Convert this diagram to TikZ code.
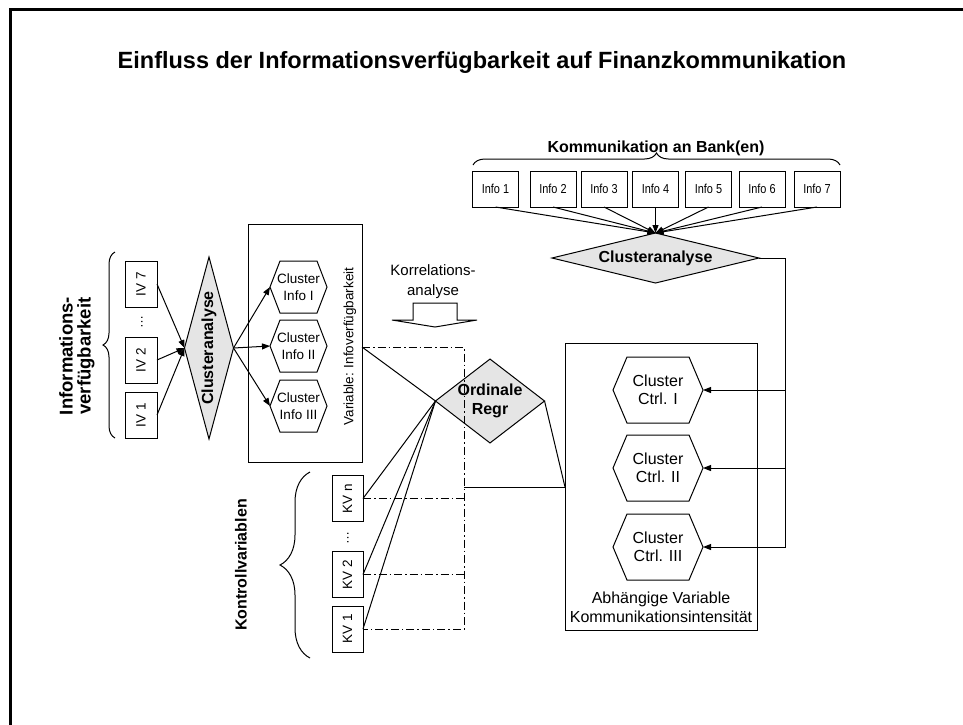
\documentclass[tikz,border=0pt]{standalone}
\usepackage{fontspec}
\setmainfont{Liberation Sans}
\newfontfamily\narrowsans{Liberation Sans}[FakeStretch=0.84]
\usepackage{graphicx}
\usetikzlibrary{arrows.meta,shapes.geometric,decorations.pathreplacing,calc}

\tikzset{
  every node/.style={outer sep=0pt, inner sep=0pt},
  conn/.style={line width=1pt},
  arr/.style={conn, -{Triangle[length=8pt,width=6pt]}},
  dashdot/.style={line width=1pt, dash pattern=on 8pt off 3pt on 1.5pt off 3pt},
  sz/.style 2 args={font=\fontsize{#1}{#2}\selectfont},
  bsz/.style 2 args={font=\bfseries\fontsize{#1}{#2}\selectfont},
  infobox/.style={draw, line width=1pt, minimum width=46pt, minimum height=36pt,
    font=\narrowsans\fontsize{13}{15}\selectfont},
  varbox/.style={draw, line width=1pt, minimum width=32pt, minimum height=46pt, sz={13.5}{16}},
  hexnode/.style 2 args={minimum width=#1, minimum height=#2, align=center},
  decision/.style={diamond, draw, line width=1pt, fill=black!10, bsz={16}{19}, align=center},
  bracket/.style={line width=1pt, decorate, decoration={brace, amplitude=#1}},
  panel/.style={draw, line width=1pt}
}

% hexagon outline around a (borderless) node
\newcommand\hexoutline[2]{%
  \draw[line width=1pt, line join=miter] (#1.west) -- ($(#1.north west)+(#2pt,0)$)
    -- ($(#1.north east)+(-#2pt,0)$) -- (#1.east)
    -- ($(#1.south east)+(-#2pt,0)$) -- ($(#1.south west)+(#2pt,0)$) -- cycle;}

\begin{document}
\begin{tikzpicture}[x=1pt, y=-1pt]
\useasboundingbox (0,0) rectangle (963,724);

% outer frame (top and left edges)
\draw[line width=3pt] (10.5,730) -- (10.5,9) -- (970,9);

% title
\node[bsz={23.5}{28}] (title) at (482,62) {Einfluss der Informationsverfügbarkeit auf Finanzkommunikation};

% ---- communication to banks ----
\node[bsz={16}{19}] (komm) at (656,148) {Kommunikation an Bank(en)};
\draw[bracket=12pt] (473,165) -- (840,165);

\node[infobox] (i1) at (495.5,189) {Info 1};
\node[infobox] (i2) at (553,189) {Info 2};
\node[infobox] (i3) at (604,189) {Info 3};
\node[infobox] (i4) at (655.5,189) {Info 4};
\node[infobox] (i5) at (708.5,189) {Info 5};
\node[infobox] (i6) at (762,189) {Info 6};
\node[infobox] (i7) at (817,189) {Info 7};

\node[decision, aspect=4.14, minimum width=207pt, minimum height=50pt] (ct) at (655.5,258) {Clusteranalyse};

\foreach \n in {i1,i2,i3,i4,i5,i6,i7}
  \draw[arr] (\n.south) -- (ct.north);

% ---- dependent variable ----
\node[panel, minimum width=192pt, minimum height=287pt] (dv) at (661,486.5) {};
\node[hexnode={90pt}{66pt}, sz={16}{18}] (c1) at (658,390) {Cluster\\Ctrl. I};
\node[hexnode={90pt}{66pt}, sz={16}{18}] (c2) at (658,468) {Cluster\\Ctrl. II};
\node[hexnode={90pt}{66pt}, sz={16}{18}] (c3) at (658,547) {Cluster\\Ctrl. III};
\hexoutline{c1}{14}
\hexoutline{c2}{14}
\hexoutline{c3}{14}
\node[sz={16}{19}, align=center] (dvlbl) at (661,607) {Abhängige Variable\\Kommunikationsintensität};

\coordinate (bus) at (785,258);
\draw[arr] (ct.east) -- (bus) |- (c3.east);
\draw[arr] (bus |- c1.east) -- (c1.east);
\draw[arr] (bus |- c2.east) -- (c2.east);

% ---- information availability ----
\node[bsz={18.5}{18}, rotate=90, align=center] (ivlbl) at (77,356) {Informations-\\verfügbarkeit};
\draw[bracket=12pt] (115,438) -- (115,252);

\node[varbox] (iv7) at (141,284) {\rotatebox{90}{IV 7}};
\node[varbox] (iv2) at (141,360) {\rotatebox{90}{IV 2}};
\node[varbox] (iv1) at (141,415) {\rotatebox{90}{IV 1}};
\node[sz={13}{15}] (ivdots) at (142,322) {\rotatebox{90}{\dots}};

\node[decision, aspect=0.27, minimum width=49pt, minimum height=182pt] (cl) at (209,348) {\rotatebox{90}{Clusteranalyse}};
\draw[arr] (iv7.east) -- (cl.west);
\draw[arr] (iv2.east) -- (cl.west);
\draw[arr] (iv1.east) -- (cl.west);

\node[panel, minimum width=114pt, minimum height=238pt] (var) at (305,343) {};
\node[hexnode={57pt}{52pt}, sz={13.5}{17}] (h1) at (298.5,287) {Cluster\\Info I};
\node[hexnode={57pt}{52pt}, sz={13.5}{17}] (h2) at (298.5,346) {Cluster\\Info II};
\node[hexnode={57pt}{52pt}, sz={13.5}{17}] (h3) at (298.5,406) {Cluster\\Info III};
\hexoutline{h1}{10}
\hexoutline{h2}{10}
\hexoutline{h3}{10}
\node[sz={13.5}{16}, rotate=90] (varlbl) at (350,346.5) {Variable: Infoverfügbarkeit};

\draw[arr] (cl.east) -- (h1.west);
\draw[arr] (cl.east) -- (h2.west);
\draw[arr] (cl.east) -- (h3.west);

% ---- correlation analysis ----
\node[sz={15}{20}, align=center] (kor) at (433,282) {Korrelations-\\analyse};
\draw[line width=1pt, line join=miter] (413,303) -- (457,303) -- (457,320) -- (477,320)
  -- (435,327) -- (392,320) -- (413,320) -- cycle;

% ---- control variables ----
\node[bsz={16}{19}, rotate=90] (kvlbl) at (241,565) {Kontrollvariablen};
\draw[bracket=30pt] (310,658) -- (310,472);

\node[varbox, minimum width=31pt] (kvn) at (347.5,498.5) {\rotatebox{90}{KV n}};
\node[varbox, minimum width=31pt] (kv2) at (347.5,574.5) {\rotatebox{90}{KV 2}};
\node[varbox, minimum width=31pt] (kv1) at (347.5,629) {\rotatebox{90}{KV 1}};
\node[sz={13}{15}] (kvdots) at (348,538) {\rotatebox{90}{\dots}};

% ---- ordinal regression ----
\node[decision, aspect=1.3, minimum width=105pt, minimum height=81pt] (ord) at (490,401) {Ordinale\\Regr};

\coordinate (vi) at ($(var.east)+(0,4)$);
\coordinate (dd) at (464,347);
\coordinate (rj) at (565,487);

\draw[dashdot] (vi) -- (dd) |- (kv1.east);
\draw[dashdot] (kvn.east) -- (kvn.east -| dd);
\draw[dashdot] (kv2.east) -- (kv2.east -| dd);

\draw[conn] (vi) -- (ord.west);
\draw[conn] (kvn.east) -- (ord.west);
\draw[conn] (kv2.east) -- (ord.west);
\draw[conn] (kv1.east) -- (ord.west);
\draw[conn] (ord.east) -- (rj);
\draw[conn] (dd |- rj) -- (rj);

\end{tikzpicture}
\end{document}
